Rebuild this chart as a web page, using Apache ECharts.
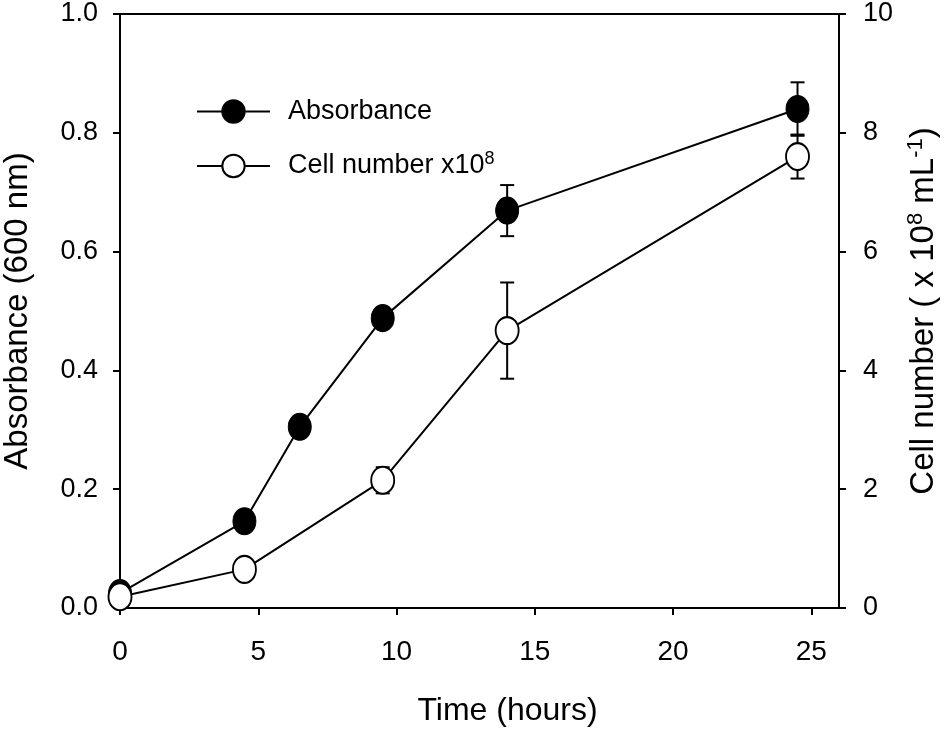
<!DOCTYPE html>
<html>
<head>
<meta charset="utf-8">
<script src="https://cdn.jsdelivr.net/npm/echarts@6/dist/echarts.min.js"></script>
<style>
html,body{margin:0;padding:0;background:#fff;}
#chart{width:950px;height:745px;}
</style>
</head>
<body>
<div id="chart"></div>
<script>
// ---- data ----
const absTime = [0, 4.5, 6.5, 9.5, 14, 24.5];
const absValues = [0.025, 0.146, 0.305, 0.488, 0.669, 0.840];
const absErr = [0, 0, 0, 0, 0.043, 0.045];

const cellTime = [0, 4.5, 9.5, 14, 24.5];
const cellValues = [0.19, 0.65, 2.15, 4.67, 7.60];
const cellErr = [0, 0.1, 0.22, 0.81, 0.37];

const xTicks = [0, 5, 10, 15, 20, 25];
const leftTicks = [0.0, 0.2, 0.4, 0.6, 0.8, 1.0];
const rightTicks = [0, 2, 4, 6, 8, 10];

const FONT = "'Liberation Sans', Arial, sans-serif";

function pairs(xs, ys) { return xs.map((x, i) => [x, ys[i]]); }

function errorSeries(xs, ys, es, yIdx) {
  const data = [];
  xs.forEach((x, i) => { if (es[i] > 0) data.push([x, ys[i] - es[i], ys[i] + es[i]]); });
  return {
    type: 'custom',
    yAxisIndex: yIdx,
    z: 1,
    silent: true,
    encode: { x: 0, y: [1, 2] },
    data: data,
    renderItem: function (params, api) {
      const x = api.value(0);
      const lo = api.coord([x, api.value(1)]);
      const hi = api.coord([x, api.value(2)]);
      const w = 7;
      const st = { stroke: '#000', lineWidth: 2 };
      return {
        type: 'group',
        children: [
          { type: 'line', shape: { x1: lo[0], y1: lo[1], x2: hi[0], y2: hi[1] }, style: st },
          { type: 'line', shape: { x1: lo[0] - w, y1: lo[1], x2: lo[0] + w, y2: lo[1] }, style: st },
          { type: 'line', shape: { x1: hi[0] - w, y1: hi[1], x2: hi[0] + w, y2: hi[1] }, style: st }
        ]
      };
    }
  };
}

const chart = echarts.init(document.getElementById('chart'), null, { renderer: 'canvas' });

const axisLineStyle = { show: true, lineStyle: { color: '#000', width: 2 } };
const tickStyle = { show: true, inside: false, length: 7, lineStyle: { color: '#000', width: 2 } };

chart.setOption({
  animation: false,
  backgroundColor: '#fff',
  textStyle: { fontFamily: FONT, color: '#000' },
  grid: {
    left: 120, right: 111, top: 14, bottom: 137,
    show: true, borderColor: '#000', borderWidth: 2, backgroundColor: 'transparent',
    containLabel: false,
    outerBoundsMode: 'none'
  },
  legend: {
    orient: 'vertical',
    left: 191,
    top: 93,
    itemWidth: 73,
    itemHeight: 28,
    itemGap: 25,
    selectedMode: false,
    data: ['Absorbance', 'Cell number'],
    formatter: function (name) {
      return name === 'Absorbance' ? '{a|Absorbance}' : '{a|Cell number x10}{s|8}';
    },
    textStyle: {
      padding: [0, 0, 0, 13],
      rich: {
        a: { fontFamily: FONT, fontSize: 27, color: '#000' },
        s: { fontFamily: FONT, fontSize: 18, color: '#000', padding: [0, 0, 14, 0] }
      }
    }
  },
  xAxis: {
    type: 'value',
    min: 0, max: 26, interval: 5,
    name: 'Time (hours)',
    nameLocation: 'middle',
    nameGap: 87,
    nameTextStyle: { fontFamily: FONT, fontSize: 32, color: '#000', padding: [0, 0, 0, 56] },
    axisLine: axisLineStyle,
    axisTick: Object.assign({}, tickStyle, { customValues: xTicks }),
    axisLabel: { customValues: xTicks, margin: 30, fontSize: 28, fontFamily: FONT, color: '#000' },
    splitLine: { show: false }
  },
  yAxis: [
    {
      type: 'value',
      position: 'left',
      min: 0, max: 1, interval: 0.2,
      name: 'Absorbance (600 nm)',
      nameLocation: 'middle',
      nameRotate: 90,
      nameGap: 86,
      nameTextStyle: { fontFamily: FONT, fontSize: 33, color: '#000' },
      axisLine: axisLineStyle,
      axisTick: tickStyle,
      axisLabel: {
        margin: 22, fontSize: 27, fontFamily: FONT, color: '#000',
        formatter: function (v) { return v.toFixed(1); }
      },
      splitLine: { show: false }
    },
    {
      type: 'value',
      position: 'right',
      min: 0, max: 10, interval: 2,
      name: '{a|Cell number ( x 10}{s|8}{a| mL}{s|-1}{a|)}',
      nameLocation: 'middle',
      nameRotate: 90,
      nameGap: 66,
      nameTextStyle: {
        fontFamily: FONT, color: '#000',
        rich: {
          a: { fontFamily: FONT, fontSize: 33, color: '#000' },
          s: { fontFamily: FONT, fontSize: 22, color: '#000', padding: [0, 0, 16, 0] }
        }
      },
      axisLine: axisLineStyle,
      axisTick: tickStyle,
      axisLabel: { margin: 24, fontSize: 27, fontFamily: FONT, color: '#000' },
      splitLine: { show: false }
    }
  ],
  series: [
    errorSeries(absTime, absValues, absErr, 0),
    errorSeries(cellTime, cellValues, cellErr, 1),
    {
      name: 'Absorbance',
      type: 'line',
      yAxisIndex: 0,
      z: 2,
      data: pairs(absTime, absValues),
      symbol: 'circle',
      symbolSize: [23, 27],
      lineStyle: { color: '#000', width: 2 },
      itemStyle: { color: '#000', borderColor: '#000', borderWidth: 1 },
      emphasis: { disabled: true }
    },
    {
      name: 'Cell number',
      type: 'line',
      yAxisIndex: 1,
      z: 3,
      data: pairs(cellTime, cellValues),
      symbol: 'circle',
      symbolSize: [23, 27],
      lineStyle: { color: '#000', width: 2 },
      itemStyle: { color: '#fff', borderColor: '#000', borderWidth: 2 },
      emphasis: { disabled: true }
    }
  ]
});
</script>
</body>
</html>
